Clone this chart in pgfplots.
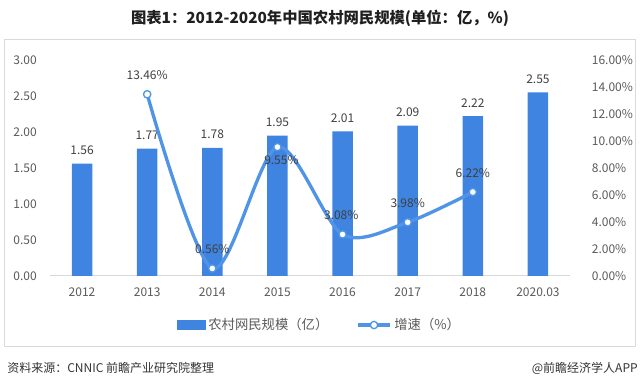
\documentclass[border=0pt]{standalone}
\usepackage{pgfplots}
\pgfplotsset{compat=1.18}
\usepackage{fontspec}
\setmainfont{Noto Sans CJK SC}
\definecolor{barblue}{RGB}{62,132,224}
\definecolor{lineblue}{RGB}{80,148,230}
\definecolor{txt}{RGB}{89,89,89}
\definecolor{lbl}{RGB}{64,64,64}
\definecolor{frame}{RGB}{217,217,217}
\pgfkeys{/pgf/number format/assume math mode=true}
\begin{document}
\begin{tikzpicture}
\path[use as bounding box] (0,0) rectangle (480pt,-291pt);
\begin{scope}[x=0.75pt,y=-0.75pt]
\draw[frame, line width=0.75pt] (4,40) rectangle (635,347);
\node[font=\bfseries\fontsize{11.5}{13}\selectfont, text=black!88] at (320,18) {图表1：2012-2020年中国农村网民规模(单位：亿，\%)};
\node[anchor=west, font=\fontsize{9}{11}\selectfont, text=black!80, inner sep=0pt] at (7,368) {资料来源：CNNIC 前瞻产业研究院整理};
\node[anchor=east, font=\fontsize{9}{11}\selectfont, text=black!80, inner sep=0pt] at (638,368) {@前瞻经济学人APP};
\end{scope}

\begin{axis}[
  at={(37.125pt,-207pt)}, anchor=south west,
  scale only axis, width=390.75pt, height=162pt,
  xmin=-0.5, xmax=7.5, ymin=0, ymax=3,
  axis x line*=bottom, axis y line*=left,
  x axis line style={frame, line width=0.75pt, -},
  y axis line style={draw=none},
  major tick length=0pt,
  xtick={0,...,7},
  xticklabels={2012,2013,2014,2015,2016,2017,2018,2020.03},
  ytick={0,0.5,...,3},
  yticklabel={\pgfmathprintnumber[fixed,precision=2,zerofill]{\tick}},
  tick label style={font=\fontsize{9}{11}\selectfont, text=txt},
  yticklabel style={xshift=-6pt},
  xticklabel style={yshift=-5pt},
  ybar, bar width=15.4pt,
  nodes near coords={\pgfmathprintnumber[fixed,precision=2,zerofill]{\pgfplotspointmeta}},
  every node near coord/.append style={font=\fontsize{9}{11}\selectfont, text=lbl, yshift=3pt},
]
\addplot[fill=barblue, draw=none] coordinates {
(0,1.56) (1,1.77) (2,1.78) (3,1.95) (4,2.01) (5,2.09) (6,2.22) (7,2.55)};
\end{axis}

\begin{axis}[
  at={(37.125pt,-207pt)}, anchor=south west,
  scale only axis, width=390.75pt, height=162pt,
  xmin=-0.5, xmax=7.5, ymin=0, ymax=16,
  axis x line=none, axis y line*=right,
  y axis line style={draw=none},
  major tick length=0pt,
  ytick={0,2,...,16},
  yticklabel={\pgfmathprintnumber[fixed,precision=2,zerofill]{\tick}\%},
  tick label style={font=\fontsize{9}{11}\selectfont, text=txt},
  yticklabel style={xshift=12.5pt},
  clip=false,
  legend style={at={(0.519,-0.227)}, anchor=center, draw=none, fill=none,
    font=\fontsize{10}{12}\selectfont, text=txt, legend columns=2,
    /tikz/every even column/.append style={column sep=19pt}},
  legend cell align=left,
]
\addlegendimage{legend image code/.code={\fill[barblue] (0pt,-3.4pt) rectangle (21pt,3.4pt);}}
\addlegendentry{农村网民规模（亿）}
\addplot[lineblue, line width=2.5pt, smooth,
  mark=*, mark size=2.75pt, mark options={fill=white, draw=lineblue, line width=1pt},
  nodes near coords, point meta=explicit symbolic,
  visualization depends on={\thisrow{dx} \as \ldx},
  visualization depends on={\thisrow{dy} \as \ldy},
  every node near coord/.append style={anchor=center, font=\fontsize{9}{11}\selectfont, text=lbl, xshift=\ldx pt, yshift=\ldy pt},
  legend image code/.code={\draw[lineblue,line width=2.5pt] (0pt,0pt) -- (24pt,0pt); \draw[lineblue, fill=white, line width=1pt] (12pt,0pt) circle (2.75pt);}
] table[meta=lab] {
x y lab dx dy
1 13.46 13.46\% 0 14.25
2 0.56 0.56\% 0 14.25
3 9.55 9.55\% 3 -9.75
4 3.08 3.08\% -1 14.25
5 3.98 3.98\% 0 14.25
6 6.22 6.22\% 0 14.25
};
\addlegendentry{增速（\%）}
\end{axis}
\end{tikzpicture}
\end{document}
